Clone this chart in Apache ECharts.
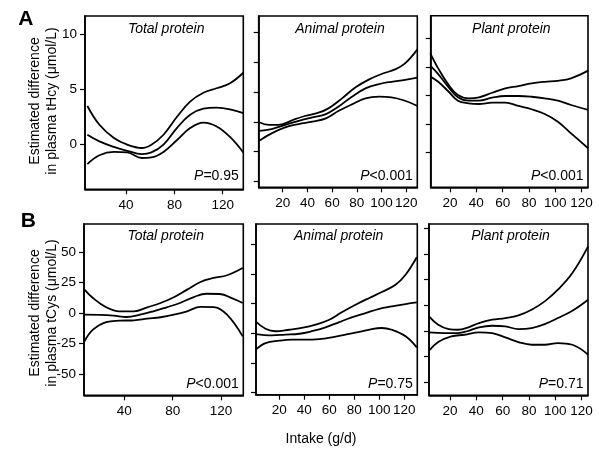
<!DOCTYPE html>
<html><head><meta charset="utf-8">
<script src="https://cdn.jsdelivr.net/npm/echarts@6/dist/echarts.min.js"></script>
<style>html,body{margin:0;padding:0;background:#fff}#c{width:600px;height:456px}</style>
</head><body><div id="c"></div>
<script>
// ---- Panel A (tHcy) : Total protein ----
const hcyTotalX   = [8, 18, 30, 41, 53, 61, 71, 82, 93, 104, 115, 126, 137];
const hcyTotalUp  = [3.5, 1.8, 0.6, 0.0, -0.3, 0.0, 0.9, 2.5, 3.9, 4.7, 5.1, 5.55, 6.5];
const hcyTotalMid = [0.9, 0.3, -0.2, -0.55, -0.85, -0.7, 0.0, 1.5, 2.7, 3.25, 3.35, 3.2, 2.85];
const hcyTotalLo  = [-1.75, -0.95, -0.65, -0.7, -1.2, -1.15, -0.65, 0.4, 1.5, 2.0, 1.65, 0.7, -0.7];
// ---- Panel A : Animal protein ----
const hcyAnimalUpX = [1, 9, 17, 28, 38, 49, 57, 68, 79, 90, 100, 111, 119, 129];
const hcyAnimalUp  = [1.97, 1.79, 1.79, 2.12, 2.39, 2.61, 2.9, 3.57, 4.31, 4.84, 5.2, 5.51, 5.91, 6.85];
const hcyAnimalX   = [1, 11, 22, 33, 44, 55, 65, 76, 87, 98, 108, 119, 129];
const hcyAnimalMid = [1.4, 1.52, 1.79, 2.07, 2.3, 2.52, 3.01, 3.68, 4.24, 4.53, 4.68, 4.8, 4.95];
const hcyAnimalLo  = [0.74, 1.23, 1.63, 1.85, 2.01, 2.23, 2.72, 3.17, 3.57, 3.68, 3.64, 3.41, 3.06];
// ---- Panel A : Plant protein ----
const hcyPlantX   = [5, 11, 19, 26, 34, 42, 52, 62, 72, 82, 92, 102, 112, 125];
const hcyPlantUp  = [6.95, 5.89, 4.72, 4.02, 3.79, 3.86, 4.18, 4.49, 4.65, 4.84, 4.95, 5.02, 5.19, 5.73];
const hcyPlantMid = [6.08, 5.49, 4.56, 3.86, 3.62, 3.62, 3.83, 3.95, 3.95, 3.9, 3.79, 3.62, 3.32, 2.97];
const hcyPlantLo  = [5.31, 4.95, 4.25, 3.62, 3.44, 3.39, 3.48, 3.48, 3.25, 3.02, 2.69, 2.15, 1.33, 0.28];
// ---- Panel B (tCys) : Total protein ----
const cysTotalX    = [7, 14, 25, 36, 48, 59, 70, 81, 92, 103, 114, 125, 138];
const cysTotalUp   = [19.2, 12.3, 4.7, 1.4, 1.4, 4.7, 8.2, 12.9, 19.2, 25.5, 28.8, 31, 37];
const cysTotalMidX = [7, 20, 31, 42, 53, 64, 75, 86, 97, 108, 119, 130, 138];
const cysTotalMid  = [-1.4, -1.6, -2.2, -3.3, -1.4, 1.4, 4.7, 8.2, 12.9, 15.8, 15.6, 11.8, 8.2];
const cysTotalLo   = [-23.3, -13.7, -7.4, -6.3, -6.0, -4.7, -3.5, -1.4, 1.4, 5.0, 4.8, -1.4, -19.2];
// ---- Panel B : Animal protein ----
const cysAnimalUpX  = [1, 9, 17, 28, 38, 49, 60, 70, 81, 92, 102, 113, 121, 130];
const cysAnimalUp   = [-11.9, -16.9, -18.6, -17.6, -16.4, -14.2, -10.8, -5.8, -0.7, 3.9, 7.9, 12.8, 19.6, 31.4];
const cysAnimalMidX = [1, 14, 25, 36, 46, 57, 68, 78, 89, 100, 110, 121, 130];
const cysAnimalMid  = [-20.5, -21.4, -20.9, -20.3, -18.6, -16, -12.4, -9.2, -6.3, -3.4, -1.8, -0.2, 0.9];
const cysAnimalLoX  = [1, 9, 20, 30, 41, 52, 62, 73, 84, 94, 102, 110, 121, 130];
const cysAnimalLo   = [-31.1, -26.6, -25, -24.3, -24.3, -23.9, -22.7, -20.9, -19.1, -17.1, -16.4, -17.6, -22, -29.5];
// ---- Panel B : Plant protein ----
const cysPlantUpX  = [4, 11, 19, 26, 34, 42, 52, 62, 72, 82, 92, 102, 113, 125];
const cysPlantUp   = [-8.6, -15.1, -18.5, -19, -17.1, -13.8, -11.2, -9.9, -7.8, -3.4, 3.1, 12.2, 25.2, 46];
const cysPlantMidX = [4, 16, 26, 34, 42, 52, 62, 72, 82, 92, 102, 113, 125];
const cysPlantMid  = [-21, -21.6, -21.6, -19.8, -17.1, -15.9, -16.4, -18.5, -17.7, -14.6, -9.9, -4.2, 4.4];
const cysPlantLoX  = [4, 11, 21, 31, 42, 52, 62, 72, 82, 92, 102, 113, 125];
const cysPlantLo   = [-35.4, -28.6, -24.2, -22.9, -21, -21.6, -25, -28.6, -30.7, -30.7, -29.4, -30.7, -38.5];

// tick values
const xTicksTotal = [40, 80, 120];
const xTicksOther = [20, 40, 60, 80, 100, 120];
const yTicksHcyTotal = [0, 5, 10];
const yTicksHcyAnimal = [-2, 0, 2, 4, 6, 8];
const yTicksHcyPlant = [0, 2, 4, 6, 8];
const yTicksCysTotal = [-50, -25, 0, 25, 50];
const yTicksCysAnimal = [-60, -40, -20, 0, 20, 40];
const yTicksCysPlant = [-60, -40, -20, 0, 20, 40, 60];

const titles = ['Total protein', 'Animal protein', 'Plant protein'];
const pValues = ['=0.95', '<0.001', '<0.001', '<0.001', '=0.75', '=0.71'];

const FONT = '"Liberation Sans", Arial, Helvetica, sans-serif';
const zip = (xs, ys) => xs.map((x, i) => [x, ys[i]]);

const panels = [
  {grid:{left:85, top:16, width:158.3, height:173.3}, x:[6.06,137], y:[-4.03,11.63], xt:xTicksTotal, yt:yTicksHcyTotal, yl:true,
   lines:[zip(hcyTotalX,hcyTotalUp), zip(hcyTotalX,hcyTotalMid), zip(hcyTotalX,hcyTotalLo)]},
  {grid:{left:258.7, top:16, width:158.6, height:171.3}, x:[0.6,128.9], y:[-2.38,9.08], xt:xTicksOther, yt:yTicksHcyAnimal, yl:false,
   lines:[zip(hcyAnimalUpX,hcyAnimalUp), zip(hcyAnimalX,hcyAnimalMid), zip(hcyAnimalX,hcyAnimalLo)]},
  {grid:{left:430.7, top:15.7, width:157.3, height:171.6}, x:[5.3,124.9], y:[-2.46,9.59], xt:xTicksOther, yt:yTicksHcyPlant, yl:false,
   lines:[zip(hcyPlantX,hcyPlantUp), zip(hcyPlantX,hcyPlantMid), zip(hcyPlantX,hcyPlantLo)]},
  {grid:{left:84, top:224, width:159.3, height:171.3}, x:[6.6,138.5], y:[-67.6,73.1], xt:xTicksTotal, yt:yTicksCysTotal, yl:true,
   lines:[zip(cysTotalX,cysTotalUp), zip(cysTotalMidX,cysTotalMid), zip(cysTotalX,cysTotalLo)]},
  {grid:{left:256, top:224, width:161.3, height:170.7}, x:[1.4,130.4], y:[-61.5,53.9], xt:xTicksOther, yt:yTicksCysAnimal, yl:false,
   lines:[zip(cysAnimalUpX,cysAnimalUp), zip(cysAnimalMidX,cysAnimalMid), zip(cysAnimalLoX,cysAnimalLo)]},
  {grid:{left:429, top:224, width:159, height:171.3}, x:[4.0,124.9], y:[-70.1,63.4], xt:xTicksOther, yt:yTicksCysPlant, yl:false,
   lines:[zip(cysPlantUpX,cysPlantUp), zip(cysPlantMidX,cysPlantMid), zip(cysPlantLoX,cysPlantLo)]}
];

const grid = [], xAxis = [], yAxis = [], series = [], graphic = [];
panels.forEach((p, i) => {
  grid.push(Object.assign({show:true, borderColor:'#000', borderWidth:1.6, backgroundColor:'transparent', containLabel:false}, p.grid));
  xAxis.push({type:'value', gridIndex:i, min:p.x[0], max:p.x[1],
    axisLine:{show:true, onZero:false, lineStyle:{color:'#000', width:1.6}},
    axisTick:{show:true, length:5, customValues:p.xt, lineStyle:{color:'#000', width:1.2}},
    axisLabel:{show:true, customValues:p.xt, color:'#000', fontSize:13.5, fontFamily:FONT, margin:9},
    splitLine:{show:false}});
  yAxis.push({type:'value', gridIndex:i, min:p.y[0], max:p.y[1],
    axisLine:{show:true, onZero:false, lineStyle:{color:'#000', width:1.6}},
    axisTick:{show:true, length:5, customValues:p.yt, lineStyle:{color:'#000', width:1.2}},
    axisLabel:{show:p.yl, customValues:p.yt, color:'#000', fontSize:13.5, fontFamily:FONT, margin:8},
    splitLine:{show:false}});
  p.lines.forEach(d => series.push({type:'line', xAxisIndex:i, yAxisIndex:i, data:d, smooth:0.4,
    showSymbol:false, symbol:'none', lineStyle:{color:'#000', width:1.8}, silent:true, animation:false, clip:true}));
  const g = p.grid;
  const cx = g.left + g.width/2 + 2;
  const topRow = i < 3;
  graphic.push({type:'text', x:cx, y: topRow ? 29 : 236.5,
    style:{text:titles[i%3], font:'italic 14px ' + FONT, fill:'#000', align:'center', verticalAlign:'middle'}});
  graphic.push({type:'text', x: g.left + g.width - 4.5, y: topRow ? 176 : 384.5,
    style:{text:'{i|P}{n|' + pValues[i] + '}', align:'right', verticalAlign:'middle', fill:'#000',
      rich:{i:{fontStyle:'italic', fontSize:14, fontFamily:FONT, fill:'#000'}, n:{fontSize:14, fontFamily:FONT, fill:'#000'}}}});
});

graphic.push({type:'text', x:25.8, y:19.5, style:{text:'A', font:'bold 21px ' + FONT, fill:'#000', align:'center', verticalAlign:'middle'}});
graphic.push({type:'text', x:28.3, y:221.5, style:{text:'B', font:'bold 21px ' + FONT, fill:'#000', align:'center', verticalAlign:'middle'}});
graphic.push({type:'text', x:35, y:101, rotation:Math.PI/2, style:{text:'Estimated difference', font:'14px ' + FONT, fill:'#000', align:'center', verticalAlign:'middle'}});
graphic.push({type:'text', x:52, y:101, rotation:Math.PI/2, style:{text:'in plasma tHcy (\u03bcmol/L)', font:'14px ' + FONT, fill:'#000', align:'center', verticalAlign:'middle'}});
graphic.push({type:'text', x:35, y:313, rotation:Math.PI/2, style:{text:'Estimated difference', font:'14px ' + FONT, fill:'#000', align:'center', verticalAlign:'middle'}});
graphic.push({type:'text', x:52, y:313, rotation:Math.PI/2, style:{text:'in plasma tCys (\u03bcmol/L)', font:'14px ' + FONT, fill:'#000', align:'center', verticalAlign:'middle'}});
graphic.push({type:'text', x:321, y:439, style:{text:'Intake (g/d)', font:'14px ' + FONT, fill:'#000', align:'center', verticalAlign:'middle'}});

const chart = echarts.init(document.getElementById('c'), null, {renderer:'canvas'});
chart.setOption({backgroundColor:'#fff', animation:false, grid, xAxis, yAxis, series, graphic});
</script></body></html>
